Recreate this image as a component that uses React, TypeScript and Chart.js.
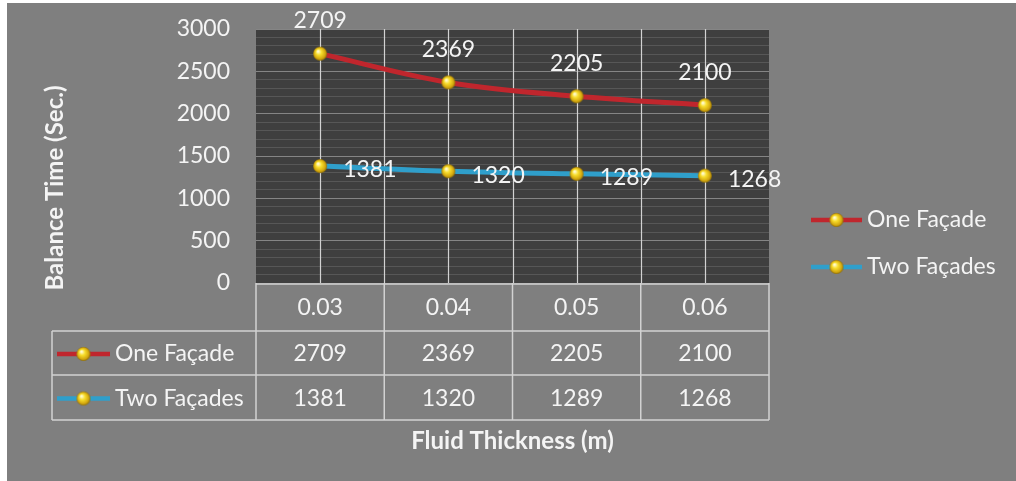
import React, { useEffect, useRef } from 'react';
import { Chart, registerables } from 'chart.js';

Chart.register(...registerables);

// Fluid thickness (m) and balance time (s) for each façade configuration
const categories = ['0.03', '0.04', '0.05', '0.06'];
const oneFacade = [2709, 2369, 2205, 2100];
const twoFacades = [1381, 1320, 1289, 1268];
const seriesNames = ['One Façade', 'Two Façades'];
const yMin = 0;
const yMax = 3000;
const yStep = 100;
const yLabelStep = 500;
const xTitle = 'Fluid Thickness (m)';
const yTitle = 'Balance Time (Sec.)';

const FONT = 'Lato, "Open Sans", sans-serif';
const TEXT = '#f4f4f4';
const PAGE_BG = '#7f7f7f';
const PLOT_BG = '#3f3f3f';
const RULE = '#d2d2d2';
const RED = '#c0262d';
const BLUE = '#2f9fcb';
const COLORS = [RED, BLUE];

function makeSphere(r: number): HTMLCanvasElement {
  const c = document.createElement('canvas');
  const s = r * 2 + 2;
  c.width = s;
  c.height = s;
  const g = c.getContext('2d')!;
  const cx = s / 2;
  const grad = g.createRadialGradient(cx - r * 0.3, cx - r * 0.35, r * 0.1, cx, cx, r);
  grad.addColorStop(0, '#fffbd0');
  grad.addColorStop(0.35, '#f8de2c');
  grad.addColorStop(0.8, '#d2a60e');
  grad.addColorStop(1, '#8c6c08');
  g.beginPath();
  g.arc(cx, cx, r, 0, Math.PI * 2);
  g.fillStyle = grad;
  g.fill();
  return c;
}

export default function App() {
  const ref = useRef<HTMLCanvasElement | null>(null);

  useEffect(() => {
    const canvas = ref.current;
    if (!canvas) return;
    const sphere = makeSphere(7);

    const drawKey = (ctx: CanvasRenderingContext2D, x0: number, x1: number, y: number, color: string) => {
      ctx.strokeStyle = color;
      ctx.lineWidth = 4.5;
      ctx.beginPath();
      ctx.moveTo(x0, y);
      ctx.lineTo(x1, y);
      ctx.stroke();
      const mx = (x0 + x1) / 2;
      ctx.drawImage(sphere, mx - sphere.width / 2, y - sphere.height / 2);
    };

    const decor = {
      id: 'decor',
      beforeDraw(chart: any) {
        const { ctx, chartArea: a, width, height } = chart;
        ctx.save();
        ctx.fillStyle = '#ffffff';
        ctx.fillRect(0, 0, width, height);
        ctx.fillStyle = PAGE_BG;
        ctx.fillRect(7, 3, width - 7, height - 3);
        ctx.fillStyle = PLOT_BG;
        ctx.fillRect(a.left, a.top, a.right - a.left, a.bottom - a.top);
        ctx.restore();
      },
      beforeDatasetsDraw(chart: any) {
        const { ctx, chartArea: a } = chart;
        const xs = chart.scales.x;
        const half = (a.right - a.left) / categories.length / 2;
        ctx.save();
        ctx.strokeStyle = RULE;
        ctx.lineWidth = 1.2;
        categories.forEach((_, i) => {
          const cx = xs.getPixelForValue(i);
          const lines = [cx];
          if (i > 0) lines.push(cx - half);
          lines.forEach((x) => {
            ctx.beginPath();
            ctx.moveTo(Math.round(x) + 0.5, a.top);
            ctx.lineTo(Math.round(x) + 0.5, a.bottom);
            ctx.stroke();
          });
        });
        ctx.restore();
      },
      afterDatasetsDraw(chart: any) {
        const { ctx } = chart;
        ctx.save();
        ctx.fillStyle = TEXT;
        ctx.font = `23px ${FONT}`;
        ctx.textBaseline = 'middle';
        const m0 = chart.getDatasetMeta(0);
        ctx.textAlign = 'center';
        m0.data.forEach((p: any, i: number) => {
          ctx.fillText(String(oneFacade[i]), p.x, p.y - 33);
        });
        const m1 = chart.getDatasetMeta(1);
        ctx.textAlign = 'left';
        m1.data.forEach((p: any, i: number) => {
          ctx.fillText(String(twoFacades[i]), p.x + 23, p.y + 4);
        });
        ctx.restore();
      },
      afterDraw(chart: any) {
        const { ctx, chartArea: a } = chart;
        const xs = chart.scales.x;
        const colW = (a.right - a.left) / categories.length;
        const tableLeft = 52;
        const rowY = [a.bottom, a.bottom + 48, a.bottom + 92, a.bottom + 137];
        ctx.save();

        // data table grid
        ctx.strokeStyle = RULE;
        ctx.lineWidth = 1.5;
        const hline = (x0: number, x1: number, y: number) => {
          ctx.beginPath();
          ctx.moveTo(x0, y);
          ctx.lineTo(x1, y);
          ctx.stroke();
        };
        const vline = (x: number, y0: number, y1: number) => {
          ctx.beginPath();
          ctx.moveTo(x, y0);
          ctx.lineTo(x, y1);
          ctx.stroke();
        };
        hline(a.left, a.right, rowY[0] + 1);
        hline(tableLeft, a.right, rowY[1]);
        hline(tableLeft, a.right, rowY[2]);
        hline(tableLeft, a.right, rowY[3]);
        for (let i = 0; i <= categories.length; i++) {
          vline(a.left + i * colW, rowY[0], rowY[3]);
        }
        vline(tableLeft, rowY[1], rowY[3]);

        // table text
        ctx.fillStyle = TEXT;
        ctx.font = `23px ${FONT}`;
        ctx.textBaseline = 'middle';
        ctx.textAlign = 'center';
        const rows = [categories, oneFacade.map(String), twoFacades.map(String)];
        rows.forEach((row, r) => {
          const cy = (rowY[r] + rowY[r + 1]) / 2 + 1;
          row.forEach((t, i) => ctx.fillText(t, xs.getPixelForValue(i), cy));
        });

        // series keys in the table and the legend at right
        seriesNames.forEach((name, s) => {
          const cy = (rowY[s + 1] + rowY[s + 2]) / 2 + 1;
          drawKey(ctx, 57, 110, cy, COLORS[s]);
          ctx.fillStyle = TEXT;
          ctx.textAlign = 'left';
          ctx.fillText(name, 115, cy);

          const ly = 220 + s * 47;
          drawKey(ctx, 811, 862, ly, COLORS[s]);
          ctx.fillStyle = TEXT;
          ctx.fillText(name, 867, ly);
        });

        // axis titles
        ctx.font = `bold 24px ${FONT}`;
        ctx.textAlign = 'center';
        ctx.fillText(xTitle, (a.left + a.right) / 2, 441);
        ctx.translate(55, 188);
        ctx.rotate(-Math.PI / 2);
        ctx.fillText(yTitle, 0, 0);
        ctx.restore();
      },
    };

    const chart = new Chart(canvas, {
      type: 'line',
      data: {
        labels: categories,
        datasets: [
          {
            label: seriesNames[0],
            data: oneFacade,
            borderColor: RED,
            borderWidth: 5,
            tension: 0.35,
            pointStyle: sphere,
            pointRadius: 7,
          },
          {
            label: seriesNames[1],
            data: twoFacades,
            borderColor: BLUE,
            borderWidth: 5,
            tension: 0.35,
            pointStyle: sphere,
            pointRadius: 7,
          },
        ],
      },
      options: {
        responsive: false,
        animation: false,
        events: [],
        layout: { padding: { left: 0, top: 29, right: 247, bottom: 198 } },
        plugins: { legend: { display: false }, tooltip: { enabled: false } },
        scales: {
          x: { type: 'category', offset: true, display: false },
          y: {
            min: yMin,
            max: yMax,
            afterFit: (scale: any) => {
              scale.width = 256;
              scale.paddingTop = 0;
              scale.paddingBottom = 0;
            },
            border: { display: false },
            grid: {
              drawTicks: false,
              color: (c: any) => (c.tick && c.tick.value % yLabelStep === 0 ? '#858585' : '#575757'),
              lineWidth: 1,
            },
            ticks: {
              stepSize: yStep,
              autoSkip: false,
              padding: 26,
              color: TEXT,
              font: { family: FONT, size: 23 },
              callback: (v: any) => (Number(v) % yLabelStep === 0 ? String(v) : ''),
            },
          },
        },
      },
      plugins: [decor],
    });
    return () => chart.destroy();
  }, []);

  return (
    <div style={{ position: 'fixed', left: 0, top: 0, width: 1016, height: 481 }}>
      <canvas ref={ref} width={1016} height={481} style={{ display: 'block', width: 1016, height: 481 }} />
    </div>
  );
}
